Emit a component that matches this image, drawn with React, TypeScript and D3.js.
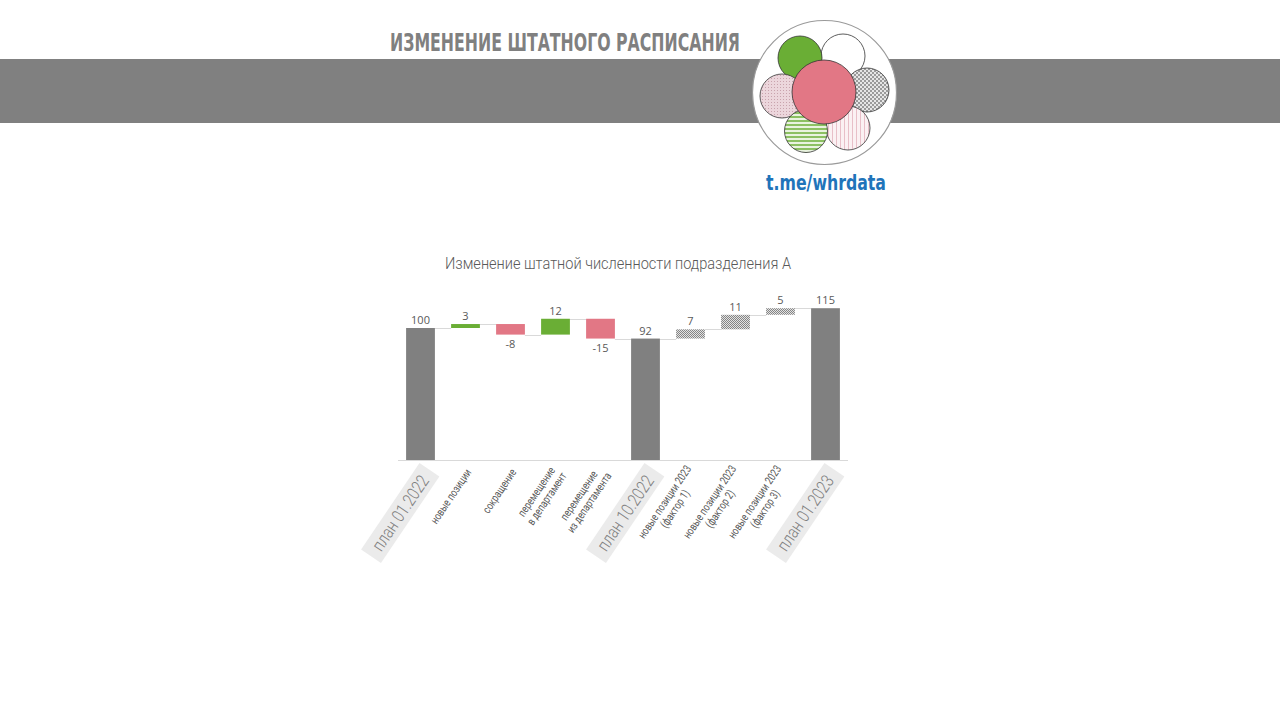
import React, { useEffect, useRef } from "react";
import * as d3 from "d3";

const categories: string[] = [
  "план 01.2022",
  "новые позиции",
  "сокращение",
  "перемещение\nв департамент",
  "перемещение\nиз департамента",
  "план 10.2022",
  "новые позиции 2023\n(фактор 1)",
  "новые позиции 2023\n(фактор 2)",
  "новые позиции 2023\n(фактор 3)",
  "план 01.2023",
];
const values: number[] = [100, 3, -8, 12, -15, 92, 7, 11, 5, 115];
const kinds: string[] = ["total", "up", "down", "up", "down", "total", "factor", "factor", "factor", "total"];

const chartTitle = "Изменение штатной численности подразделения А";
const headerTitle = "ИЗМЕНЕНИЕ ШТАТНОГО РАСПИСАНИЯ";
const linkText = "t.me/whrdata";

const COLORS: Record<string, string> = {
  total: "#808080",
  up: "#6aae35",
  down: "#e27785",
  factor: "url(#hatch)",
};

export default function App() {
  const ref = useRef<SVGSVGElement | null>(null);

  useEffect(() => {
    const svg = d3.select(ref.current);
    svg.selectAll("*").remove();

    const defs = svg.append("defs");
    const hatch = defs.append("pattern").attr("id", "hatch").attr("patternUnits", "userSpaceOnUse").attr("width", 2).attr("height", 2);
    hatch.append("rect").attr("width", 2).attr("height", 2).attr("fill", "#e2e2e2");
    hatch.append("rect").attr("width", 1).attr("height", 1).attr("fill", "#858585");
    hatch.append("rect").attr("x", 1).attr("y", 1).attr("width", 1).attr("height", 1).attr("fill", "#858585");

    const pDots = defs.append("pattern").attr("id", "pdots").attr("patternUnits", "userSpaceOnUse").attr("width", 3).attr("height", 3);
    pDots.append("rect").attr("width", 3).attr("height", 3).attr("fill", "#ecd6dc");
    pDots.append("rect").attr("width", 1).attr("height", 1).attr("fill", "#c9a3ad");

    const gStripes = defs.append("pattern").attr("id", "gstripes").attr("patternUnits", "userSpaceOnUse").attr("width", 4).attr("height", 4);
    gStripes.append("rect").attr("width", 4).attr("height", 4).attr("fill", "#e9f3df");
    gStripes.append("rect").attr("width", 4).attr("height", 2).attr("fill", "#8cc062");

    const pStripes = defs.append("pattern").attr("id", "pstripes").attr("patternUnits", "userSpaceOnUse").attr("width", 4).attr("height", 4);
    pStripes.append("rect").attr("width", 4).attr("height", 4).attr("fill", "#fbf1f3");
    pStripes.append("rect").attr("width", 1).attr("height", 4).attr("fill", "#e8bfc8");

    const checker = defs.append("pattern").attr("id", "checker").attr("patternUnits", "userSpaceOnUse").attr("width", 4).attr("height", 4);
    checker.append("rect").attr("width", 4).attr("height", 4).attr("fill", "#e6e6e6");
    checker.append("rect").attr("width", 2).attr("height", 2).attr("fill", "#9a9a9a");
    checker.append("rect").attr("x", 2).attr("y", 2).attr("width", 2).attr("height", 2).attr("fill", "#9a9a9a");

    // Header
    svg.append("rect").attr("x", 0).attr("y", 59).attr("width", 1280).attr("height", 64).attr("fill", "#808080");
    svg.append("text").attr("x", 390).attr("y", 51)
      .attr("font-family", "'DejaVu Sans Condensed', 'DejaVu Sans', sans-serif")
      .attr("font-weight", "bold").attr("font-size", 25).attr("fill", "#808080")
      .attr("textLength", 350).attr("lengthAdjust", "spacingAndGlyphs")
      .text(headerTitle);

    // Logo
    const logo = svg.append("g");
    logo.append("circle").attr("cx", 824.5).attr("cy", 92.5).attr("r", 72).attr("fill", "#fff").attr("stroke", "#9a9a9a").attr("stroke-width", 1.2);
    const petals = [
      { cx: 843, cy: 56, r: 22, fill: "#ffffff" },
      { cx: 800, cy: 58, r: 22, fill: "#6aae35" },
      { cx: 867, cy: 90, r: 22, fill: "url(#checker)" },
      { cx: 782, cy: 96, r: 22, fill: "url(#pdots)" },
      { cx: 848, cy: 128, r: 22, fill: "url(#pstripes)" },
      { cx: 806, cy: 131, r: 21.5, fill: "url(#gstripes)" },
      { cx: 824, cy: 92, r: 32, fill: "#e27785" },
    ];
    logo.selectAll("circle.p").data(petals).join("circle").attr("class", "p")
      .attr("cx", (d) => d.cx).attr("cy", (d) => d.cy).attr("r", (d) => d.r)
      .attr("fill", (d) => d.fill).attr("stroke", "#333").attr("stroke-width", 0.8);
    svg.append("text").attr("x", 766).attr("y", 190)
      .attr("font-family", "'DejaVu Sans Condensed', 'DejaVu Sans', sans-serif")
      .attr("font-weight", "bold").attr("font-size", 21).attr("fill", "#1f74ba")
      .attr("textLength", 120).attr("lengthAdjust", "spacingAndGlyphs")
      .text(linkText);

    // Chart title
    svg.append("text").attr("x", 618).attr("y", 269).attr("text-anchor", "middle")
      .attr("font-family", "Roboto, sans-serif").attr("font-weight", 300).attr("font-size", 16)
      .attr("fill", "#595959").attr("textLength", 346).attr("lengthAdjust", "spacingAndGlyphs")
      .text(chartTitle);

    // Waterfall
    const x = d3.scaleBand<string>().domain(categories).range([398, 848]).paddingInner(0.36).paddingOuter(0.18);
    const y = d3.scaleLinear().domain([0, 120]).range([460, 301.6]);

    let run = 0;
    const bars = categories.map((c, i) => {
      const k = kinds[i];
      let start: number, end: number;
      if (k === "total") {
        start = 0; end = values[i]; run = values[i];
      } else {
        start = run; end = run + values[i]; run = end;
      }
      return { c, k, v: values[i], start, end, level: run };
    });

    const g = svg.append("g");
    g.append("line").attr("x1", 398).attr("x2", 848).attr("y1", 460.5).attr("y2", 460.5).attr("stroke", "#d9d9d9").attr("stroke-width", 1);

    bars.slice(0, -1).forEach((b, i) => {
      const nx = bars[i + 1];
      g.append("line")
        .attr("x1", (x(b.c) as number) + x.bandwidth()).attr("x2", x(nx.c) as number)
        .attr("y1", Math.round(y(b.level)) + 0.5).attr("y2", Math.round(y(b.level)) + 0.5)
        .attr("stroke", "#d9d9d9").attr("stroke-width", 1);
    });

    g.selectAll("rect.bar").data(bars).join("rect").attr("class", "bar")
      .attr("x", (d) => x(d.c) as number).attr("width", x.bandwidth())
      .attr("y", (d) => y(Math.max(d.start, d.end)))
      .attr("height", (d) => Math.abs(y(d.start) - y(d.end)))
      .attr("fill", (d) => COLORS[d.k]);

    g.selectAll("text.val").data(bars).join("text").attr("class", "val")
      .attr("x", (d) => (x(d.c) as number) + x.bandwidth() / 2)
      .attr("y", (d) => (d.v < 0 ? y(Math.min(d.start, d.end)) + 13 : y(Math.max(d.start, d.end)) - 4))
      .attr("text-anchor", "middle").attr("font-family", "'Open Sans', sans-serif").attr("font-size", 11)
      .attr("fill", "#595959").text((d) => String(d.v));

    // x labels
    const angle = -56;
    bars.forEach((b) => {
      const cx = (x(b.c) as number) + x.bandwidth() / 2;
      const isTotal = b.k === "total";
      const lines = b.c.split("\n");
      const fs = isTotal ? 18 : 11.5;
      const lh = isTotal ? 18 : 12.5;
      const sx = isTotal ? 0.8 : 0.76;
      const ax = cx + (isTotal ? 4 : 3);
      const ay = isTotal ? 477 : 470;
      const lg = g.append("g").attr("transform", `translate(${ax},${ay}) rotate(${angle}) scale(${sx},1)`);
      const bg = isTotal ? lg.append("rect") : null;
      const texts = lines.map((ln, j) =>
        lg.append("text").attr("font-family", "Roboto, sans-serif").attr("font-weight", isTotal ? 300 : 400)
          .attr("font-size", fs).attr("fill", isTotal ? "#7f7f7f" : "#595959")
          .attr("text-anchor", "middle")
          .attr("y", (j - (lines.length - 1) / 2) * lh).attr("dy", "0.35em")
          .text(ln)
      );
      const lens = texts.map((t) => (t.node() as SVGTextElement).getComputedTextLength());
      const maxLen = Math.max(...lens);
      texts.forEach((t) => t.attr("x", -maxLen / 2));
      if (bg) {
        const pad = 11;
        bg.attr("x", -maxLen - pad).attr("y", -12).attr("width", maxLen + 2 * pad).attr("height", 24).attr("fill", "#ebebeb");
      }
    });
  }, []);

  return (
    <svg ref={ref} width={1280} height={719} style={{ position: "absolute", left: 0, top: 0, background: "#fff" }} />
  );
}
